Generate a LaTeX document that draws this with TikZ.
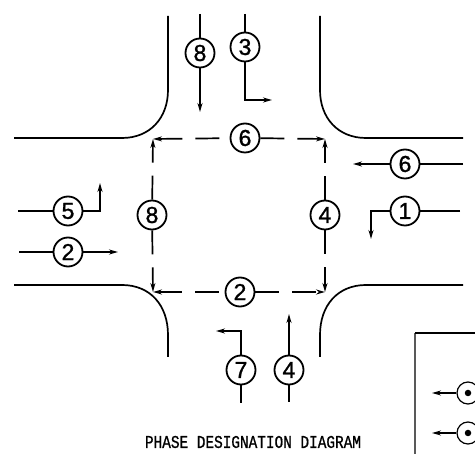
\documentclass[tikz,border=0pt]{standalone}
\usepackage{fontspec}
\setmainfont{Liberation Sans}
\newfontfamily\digitfont[FakeBold=1.3]{Liberation Sans}
\newfontfamily\titlefont[FakeStretch=0.8,FakeBold=0.9]{Liberation Mono}
\usetikzlibrary{arrows.meta}
\tikzset{
  phase/.style={circle,draw,line width=1.8pt,minimum size=29pt,inner sep=0pt,font=\digitfont\fontsize{23}{23}\selectfont,fill=white},
  curb/.style={line width=1.7pt},
  wire/.style={line width=1.7pt},
  go/.style={wire,-{Stealth[length=9pt,width=5pt]}},
  back/.style={wire,{Stealth[length=9pt,width=5pt]}-},
  dash run/.style={dash pattern=on 24pt off 13pt},
  legend ring/.style={circle,draw,line width=1.2pt,minimum size=22pt,inner sep=0pt},
  legend dot/.style={circle,fill=black,minimum size=6.5pt,inner sep=0pt},
  frame/.style={line width=1.2pt}
}
\begin{document}
\begin{tikzpicture}[x=1pt,y=-1pt]
\clip (0,0) rectangle (475,454);
\fill[white] (0,0) rectangle (475,454);
% curbs
\draw[curb] (168,16) -- (168,90) .. controls (168,118) and (150,138) .. (122,138) -- (14,138);
\draw[curb] (320,16) -- (320,90) .. controls (320,118) and (338,138) .. (366,138) -- (463,138);
\draw[curb] (14,285) -- (122,285) .. controls (150,285) and (168,305) .. (168,335) -- (168,357);
\draw[curb] (463,285) -- (366,285) .. controls (338,285) and (320,305) .. (320,335) -- (320,357);
% corners of the crossing
\coordinate (nw) at (153,139);
\coordinate (ne) at (325,139);
\coordinate (sw) at (153,292);
\coordinate (se) at (325,292);
% centre ring
\node[phase] (c6) at (245,138) {6};
\node[phase] (c8) at (152,215) {8};
\node[phase] (c4) at (325,215) {4};
\node[phase] (c2) at (240,292) {2};
\draw[back,dash run] (nw) -- (c6);
\draw[go,dash run] (c6) -- (ne);
\draw[go,dash run] (c8) -- (nw);
\draw[go,dash run] (c8) -- (sw);
\draw[go,dash run] (c4) -- (ne);
\draw[go,dash run] (c4) -- (se);
\draw[back,dash run] (sw) -- (c2);
\draw[go,dash run] (c2) -- (se);
% top approach
\node[phase] (t8) at (200,53) {8};
\coordinate (t8a) at (200,14);
\coordinate (t8b) at (200,112);
\draw[wire] (t8a) -- (t8);
\draw[go] (t8) -- (t8b);
\node[phase] (t3) at (245,47) {3};
\coordinate (t3a) at (245,14);
\coordinate (t3b) at (245,100);
\coordinate (t3c) at (272,100);
\draw[wire] (t3a) -- (t3);
\draw[go] (t3) -- (t3b) -- (t3c);
% left approach
\node[phase] (l5) at (68,211) {5};
\coordinate (l5a) at (18,211);
\coordinate (l5b) at (100,211);
\coordinate (l5c) at (100,183);
\draw[wire] (l5a) -- (l5);
\draw[go] (l5) -- (l5b) -- (l5c);
\node[phase] (l2) at (68,252) {2};
\coordinate (l2a) at (19,252);
\coordinate (l2b) at (118,252);
\draw[wire] (l2a) -- (l2);
\draw[go] (l2) -- (l2b);
% right approach
\node[phase] (r6) at (405,164) {6};
\coordinate (r6a) at (463,164);
\coordinate (r6b) at (353,164);
\draw[wire] (r6a) -- (r6);
\draw[go] (r6) -- (r6b);
\node[phase] (r1) at (405,211) {1};
\coordinate (r1a) at (460,211);
\coordinate (r1b) at (371,211);
\coordinate (r1c) at (371,239);
\draw[wire] (r1a) -- (r1);
\draw[go] (r1) -- (r1b) -- (r1c);
% bottom approach
\node[phase] (b7) at (241,370) {7};
\coordinate (b7a) at (241,403);
\coordinate (b7b) at (241,331);
\coordinate (b7c) at (216,331);
\draw[wire] (b7a) -- (b7);
\draw[go] (b7) -- (b7b) -- (b7c);
\node[phase] (b4) at (289,370) {4};
\coordinate (b4a) at (289,402);
\coordinate (b4b) at (289,314);
\draw[wire] (b4a) -- (b4);
\draw[go] (b4) -- (b4b);
% title
\node[font=\titlefont\fontsize{18}{18}\selectfont] (title) at (253,442) {PHASE DESIGNATION DIAGRAM};
% legend
\draw[frame,gray!70!black] (415,333) -- (415,454);
\draw[frame] (415,333) -- (475,333);
\node[legend ring] (k1) at (468,393) {};
\node[legend dot] at (k1) {};
\coordinate (k1a) at (432,393);
\draw[go,line width=1.3pt] (k1) -- (k1a);
\node[legend ring] (k2) at (468,433) {};
\node[legend dot] at (k2) {};
\coordinate (k2a) at (432,433);
\draw[go,line width=1.3pt] (k2) -- (k2a);
\end{tikzpicture}
\end{document}
